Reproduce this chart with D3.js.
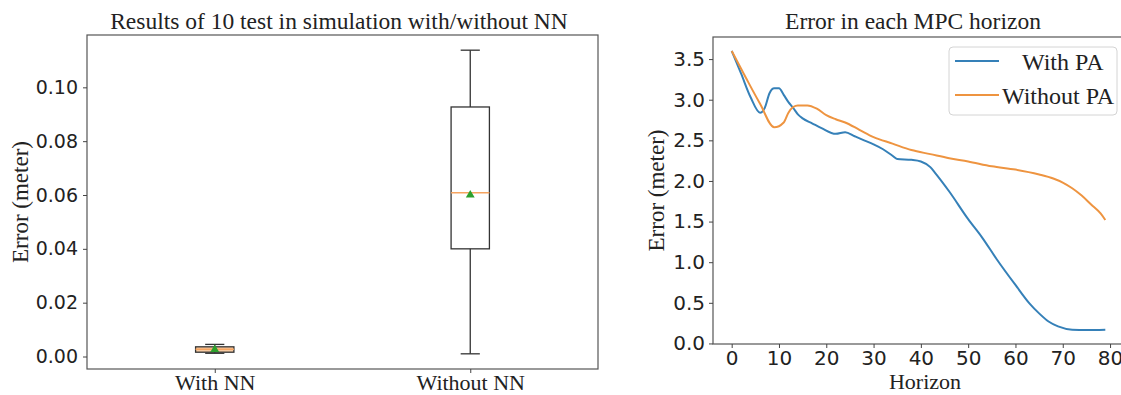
<!DOCTYPE html>
<html>
<head>
<meta charset="utf-8">
<script src="https://cdn.jsdelivr.net/npm/d3@7"></script>
<style>
  body { margin: 0; background: #fff; }
  .serif { font-family: "Liberation Serif", "Times New Roman", serif; fill: #222; }
  .tick text { font-family: "DejaVu Sans", sans-serif; fill: #222; }
  .domain, .tick line { stroke: #444; }
</style>
</head>
<body>
<div id="chart-area"></div>
<script>
// box plot data (meters)
const groups = ["With NN", "Without NN"]
const whiskerLow = [0.0012, 0.0010]
const q1 = [0.0016, 0.0400]
const median = [0.0027, 0.0608]
const q3 = [0.0036, 0.0927]
const whiskerHigh = [0.0045, 0.1138]
const mean = [0.0026, 0.0600]
const boxTicks = [0, 0.02, 0.04, 0.06, 0.08, 0.10]

// horizon curves
const withPA_h = [0, 2, 4, 6, 7, 8, 9, 10, 11, 12, 13, 14, 15, 17, 19, 22, 24, 26, 28, 30, 32, 34, 35, 38, 40, 42, 43, 46, 50, 53, 56, 60, 63, 65, 67, 69, 72, 75, 79]
const withPA_v = [3.60, 3.32, 3.03, 2.84, 2.90, 3.08, 3.14, 3.14, 3.06, 2.97, 2.90, 2.82, 2.77, 2.71, 2.65, 2.58, 2.60, 2.55, 2.50, 2.45, 2.39, 2.31, 2.27, 2.26, 2.24, 2.17, 2.10, 1.87, 1.53, 1.30, 1.04, 0.72, 0.49, 0.37, 0.27, 0.21, 0.17, 0.165, 0.17]
const withoutPA_h = [0, 3, 6, 9, 11, 12, 13, 14, 16, 18, 20, 22, 24, 27, 30, 34, 38, 42, 46, 50, 55, 60, 65, 68, 70, 72, 74, 76, 78, 79]
const withoutPA_v = [3.60, 3.27, 2.95, 2.66, 2.72, 2.84, 2.91, 2.93, 2.93, 2.89, 2.81, 2.76, 2.72, 2.63, 2.54, 2.46, 2.38, 2.33, 2.28, 2.24, 2.18, 2.14, 2.08, 2.03, 1.98, 1.91, 1.82, 1.71, 1.60, 1.52]
const horizonTicks = [0, 10, 20, 30, 40, 50, 60, 70, 80]
const errorTicks = [0, 0.5, 1.0, 1.5, 2.0, 2.5, 3.0, 3.5]

const svg = d3.select("#chart-area").append("svg")
  .attr("width", 1121)
  .attr("height", 395)

// ---------- left: box plot ----------
const L = { left: 87, right: 598, top: 35, bottom: 369 }

const lo = d3.min(whiskerLow), hi = d3.max(whiskerHigh)
const yBox = d3.scaleLinear()
  .domain([lo - 0.05 * (hi - lo), hi + 0.05 * (hi - lo)])
  .range([L.bottom, L.top])
const xBox = d3.scaleLinear()
  .domain([0.5, 2.5])
  .range([L.left, L.right])

const gl = svg.append("g")

gl.append("rect")
  .attr("x", L.left).attr("y", L.top)
  .attr("width", L.right - L.left).attr("height", L.bottom - L.top)
  .attr("fill", "none").attr("stroke", "#555").attr("stroke-width", 1.2)

gl.append("g")
  .attr("transform", `translate(${L.left},0)`)
  .call(d3.axisLeft(yBox).tickValues(boxTicks).tickFormat(d3.format(".2f")).tickSize(4).tickPadding(5))
  .call(g => g.select(".domain").remove())
  .selectAll("text").style("font-size", "19px")

gl.append("g")
  .attr("transform", `translate(0,${L.bottom})`)
  .call(d3.axisBottom(xBox).tickValues([1, 2]).tickFormat(d => groups[d - 1]).tickSize(4).tickPadding(1))
  .call(g => g.select(".domain").remove())
  .selectAll("text")
    .attr("class", "serif")
    .style("font-family", "Liberation Serif, serif")
    .style("font-size", "22px")

const bw = (xBox(1.15) - xBox(1)) / 2
groups.forEach((name, i) => {
  const cx = xBox(i + 1)
  const s = "#333"
  // whiskers
  gl.append("line").attr("x1", cx).attr("x2", cx).attr("y1", yBox(q3[i])).attr("y2", yBox(whiskerHigh[i])).attr("stroke", s).attr("stroke-width", 1.3)
  gl.append("line").attr("x1", cx).attr("x2", cx).attr("y1", yBox(q1[i])).attr("y2", yBox(whiskerLow[i])).attr("stroke", s).attr("stroke-width", 1.3)
  // caps
  ;[whiskerHigh[i], whiskerLow[i]].forEach(v => {
    gl.append("line").attr("x1", cx - bw / 2).attr("x2", cx + bw / 2).attr("y1", yBox(v)).attr("y2", yBox(v)).attr("stroke", s).attr("stroke-width", 1.3)
  })
  // box
  gl.append("rect")
    .attr("x", cx - bw).attr("width", 2 * bw)
    .attr("y", yBox(q3[i])).attr("height", yBox(q1[i]) - yBox(q3[i]))
    .attr("fill", i === 0 ? "#f6c9a0" : "none").attr("stroke", s).attr("stroke-width", 1.3)
  // median
  gl.append("line").attr("x1", cx - bw).attr("x2", cx + bw).attr("y1", yBox(median[i])).attr("y2", yBox(median[i]))
    .attr("stroke", "#f5a460").attr("stroke-width", 1.5)
  // mean
  gl.append("path")
    .attr("d", d3.symbol(d3.symbolTriangle, 34)())
    .attr("transform", `translate(${cx},${yBox(mean[i])})`)
    .attr("fill", "#2ca02c")
})

gl.append("text")
  .attr("class", "serif")
  .attr("x", 339).attr("y", 29)
  .attr("text-anchor", "middle")
  .style("font-size", "23.5px")
  .text("Results of 10 test in simulation with/without NN")

gl.append("text")
  .attr("class", "serif")
  .attr("transform", `translate(28,${(L.top + L.bottom) / 2}) rotate(-90)`)
  .attr("text-anchor", "middle")
  .style("font-size", "23px")
  .text("Error (meter)")

// ---------- right: line chart ----------
const R = { left: 713, right: 1124, top: 37, bottom: 344 }
const allV = withPA_v.concat(withoutPA_v)
const vmin = d3.min(allV), vmax = d3.max(allV)
const y = d3.scaleLinear()
  .domain([vmin - 0.05 * (vmax - vmin), vmax + 0.05 * (vmax - vmin)])
  .range([R.bottom, R.top])
const x = d3.scaleLinear()
  .domain([-0.05 * 79, 79 * 1.05])
  .range([R.left, R.right])

const gr = svg.append("g")

gr.append("rect")
  .attr("x", R.left).attr("y", R.top)
  .attr("width", R.right - R.left).attr("height", R.bottom - R.top)
  .attr("fill", "none").attr("stroke", "#555").attr("stroke-width", 1.2)

gr.append("g")
  .attr("transform", `translate(${R.left},0)`)
  .call(d3.axisLeft(y).tickValues(errorTicks).tickFormat(d3.format(".1f")).tickSize(4).tickPadding(4))
  .call(g => g.select(".domain").remove())
  .selectAll("text").style("font-size", "20px")

gr.append("g")
  .attr("transform", `translate(0,${R.bottom})`)
  .call(d3.axisBottom(x).tickValues(horizonTicks).tickFormat(d3.format("d")).tickSize(4).tickPadding(3))
  .call(g => g.select(".domain").remove())
  .selectAll("text").style("font-size", "20px")

const line = d3.line()
  .x(d => x(d[0]))
  .y(d => y(d[1]))
  .curve(d3.curveMonotoneX)

const series = [
  { name: "With PA", color: "#3580b8", pts: d3.zip(withPA_h, withPA_v) },
  { name: "Without PA", color: "#ee9440", pts: d3.zip(withoutPA_h, withoutPA_v) }
]

series.forEach(s => {
  gr.append("path")
    .datum(s.pts)
    .attr("d", line)
    .attr("fill", "none")
    .attr("stroke", s.color)
    .attr("stroke-width", 2)
})

// legend
const lg = gr.append("g").attr("transform", "translate(949,47)")
lg.append("rect")
  .attr("width", 168).attr("height", 68).attr("rx", 4)
  .attr("fill", "#fff").attr("stroke", "#d4d4d4")
series.forEach((s, i) => {
  const yy = 14 + i * 34
  lg.append("line").attr("x1", 6).attr("x2", 50).attr("y1", yy).attr("y2", yy)
    .attr("stroke", s.color).attr("stroke-width", 2.2)
  lg.append("text")
    .attr("class", "serif")
    .attr("x", i === 0 ? 73 : 53).attr("y", yy + 9)
    .style("font-size", "24px")
    .text(s.name)
})

gr.append("text")
  .attr("class", "serif")
  .attr("x", 913).attr("y", 29)
  .attr("text-anchor", "middle")
  .style("font-size", "23.5px")
  .text("Error in each MPC horizon")

gr.append("text")
  .attr("class", "serif")
  .attr("x", 925).attr("y", 389)
  .attr("text-anchor", "middle")
  .style("font-size", "22px")
  .text("Horizon")

gr.append("text")
  .attr("class", "serif")
  .attr("transform", `translate(664,${(R.top + R.bottom) / 2}) rotate(-90)`)
  .attr("text-anchor", "middle")
  .style("font-size", "23px")
  .text("Error (meter)")
</script>
</body>
</html>
